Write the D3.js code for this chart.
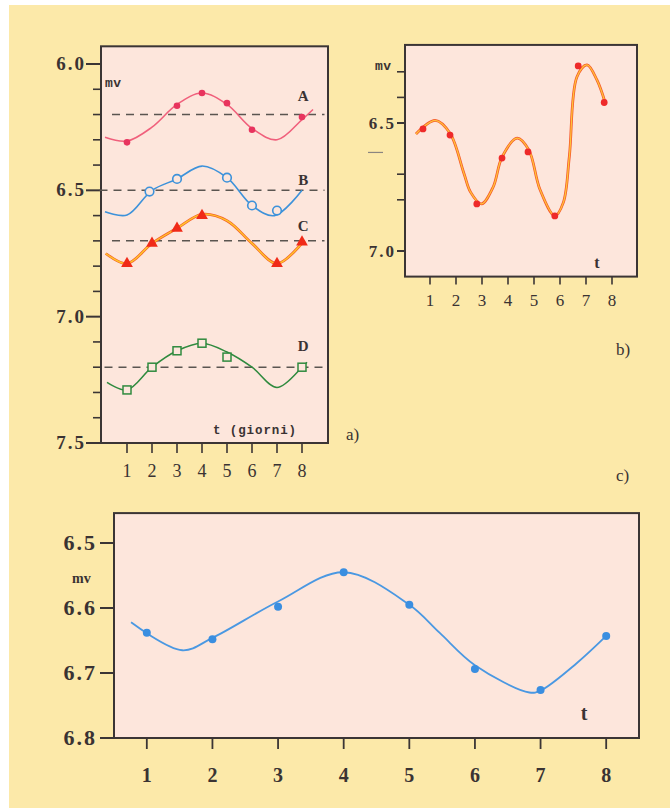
<!DOCTYPE html>
<html><head><meta charset="utf-8">
<script src="https://cdn.jsdelivr.net/npm/d3@7"></script>
<style>
html,body{margin:0;padding:0;background:#fff;}
svg{display:block;}
</style></head>
<body>
<svg id="c" width="670" height="808"></svg>
<script>
// ---------- DATA ----------
const tTicks = [1,2,3,4,5,6,7,8];
const yTicksA = ["6.0","6.5","7.0","7.5"];
const yMinorA = [6.1,6.2,6.3,6.4,6.6,6.7,6.8,6.9,7.1,7.2,7.3,7.4];
const yTicksB = ["6.5","7.0"];
const yMinorB = [6.3,6.4,6.7,6.8];
const yTicksC = ["6.5","6.6","6.7","6.8"];

// panel a series: marker points [t, mV]
const seriesNames = ["A","B","C","D"];
const baselines = [6.20, 6.50, 6.70, 7.20];
const pointsA = [[1,6.31],[3,6.165],[4,6.115],[5,6.155],[6,6.26],[8,6.21]];
const pointsB = [[1.9,6.505],[3,6.455],[5,6.45],[6,6.56],[7,6.58]];
const pointsC = [[1,6.79],[2,6.71],[3,6.65],[4,6.60],[7,6.79],[8,6.705]];
const pointsD = [[1,7.29],[2,7.20],[3,7.135],[4,7.105],[5,7.16],[8,7.20]];
// drawn curves
const curveA = [[0.12,6.29],[1,6.305],[2,6.25],[3,6.16],[4,6.115],[5,6.16],[6,6.255],[7,6.30],[8,6.22],[8.44,6.18]];
const curveB = [[0.12,6.585],[1,6.598],[2,6.50],[3,6.455],[4,6.404],[5,6.45],[6,6.56],[6.9,6.60],[8,6.50]];
const curveC = [[0.15,6.75],[1,6.79],[2,6.71],[3,6.65],[4,6.595],[5,6.62],[6,6.71],[7,6.79],[8,6.71],[8.1,6.70]];
const curveD = [[0.2,7.26],[1,7.29],[2,7.20],[3,7.135],[4,7.105],[5,7.14],[6,7.20],[7,7.28],[8,7.20],[8.2,7.18]];

// panel b
const pointsPB = [[0.73,6.523],[1.77,6.547],[2.8,6.816],[3.77,6.637],[4.77,6.613],[5.8,6.863],[6.7,6.277],[7.7,6.42]];
const curvePB = [[0.46,6.543],[1.2,6.49],[1.77,6.54],[2.3,6.695],[2.56,6.77],[2.98,6.816],[3.43,6.75],[3.77,6.633],[4.35,6.559],[4.8,6.605],[5.23,6.76],[5.8,6.863],[6.13,6.81],[6.36,6.63],[6.65,6.32],[7.04,6.273],[7.42,6.332],[7.73,6.418]];

// panel c
const pointsPC = [[1,6.638],[2,6.648],[3,6.598],[4,6.545],[5,6.595],[6,6.694],[7,6.726],[8,6.643]];
const curvePC = [[0.76,6.622],[1.54,6.665],[2,6.646],[3,6.59],[4,6.545],[5,6.595],[5.46,6.638],[6,6.688],[6.83,6.73],[7,6.727],[7.55,6.685],[8,6.643]];

// ---------- STYLE ----------
const BG = "#fce9a9", PANEL = "#fde6dc", FRAME = "#3b3535", INK = "#3a3333";
const serif = "'Liberation Serif','DejaVu Serif',serif";
const mono = "'Liberation Mono','DejaVu Sans Mono',monospace";

const svg = d3.select("#c");
svg.append("rect").attr("x",9).attr("y",5).attr("width",661).attr("height",803).attr("fill",BG);

const smooth = d3.curveCatmullRom.alpha(0.5);

function frame(g, x0, y0, x1, y1){
  g.append("rect").attr("x",x0).attr("y",y0).attr("width",x1-x0).attr("height",y1-y0)
   .attr("fill",PANEL).attr("stroke",FRAME).attr("stroke-width",2);
}
function text(g, x, y, s, size, opts={}){
  return g.append("text").attr("x",x).attr("y",y).text(s)
    .attr("font-family",opts.family||serif).attr("font-size",size)
    .attr("font-weight",opts.weight||"bold").attr("fill",opts.fill||INK)
    .attr("text-anchor",opts.anchor||"start")
    .attr("letter-spacing",opts.ls||0);
}

// ================= PANEL a =================
{
  const g = svg.append("g");
  const x = d3.scaleLinear().domain([0,9]).range([102,327]);
  const y = d3.scaleLinear().domain([6.0,7.5]).range([64,443]);
  frame(g, 101, y(5.93), 328, y(7.5));
  const yMaj = yTicksA.map(Number);
  g.selectAll(".ymaj").data(yMaj).join("line")
    .attr("x1",86).attr("x2",101).attr("y1",d=>y(d)).attr("y2",d=>y(d))
    .attr("stroke",FRAME).attr("stroke-width",2);
  g.selectAll(".ymin").data(yMinorA).join("line")
    .attr("x1",93).attr("x2",101).attr("y1",d=>y(d)).attr("y2",d=>y(d))
    .attr("stroke",FRAME).attr("stroke-width",1.6);
  yTicksA.forEach(s=>text(g, 86, y(+s)+6, s, 19, {anchor:"end", ls:2}));
  g.selectAll(".xt").data(tTicks).join("line")
    .attr("x1",d=>x(d)).attr("x2",d=>x(d)).attr("y1",443).attr("y2",453)
    .attr("stroke",FRAME).attr("stroke-width",1.6);
  tTicks.forEach(t=>text(g, x(t), 477, String(t), 18, {anchor:"middle", weight:"normal"}));
  const dashExt = [[0.4,8.9],[-0.1,8.9],[0.4,8.9],[0.1,9.0]];
  baselines.forEach((b,i)=>{
    g.append("line").attr("x1",x(dashExt[i][0])).attr("x2",x(dashExt[i][1]))
      .attr("y1",y(b)).attr("y2",y(b))
      .attr("stroke","#5a5550").attr("stroke-width",1.5).attr("stroke-dasharray","8,6");
  });
  const line = d3.line().x(d=>x(d[0])).y(d=>y(d[1])).curve(smooth);
  g.append("path").attr("d",line(curveA)).attr("fill","none").attr("stroke","#f0607c").attr("stroke-width",1.6);
  g.selectAll(".pa").data(pointsA).join("circle").attr("cx",d=>x(d[0])).attr("cy",d=>y(d[1])).attr("r",3.3).attr("fill","#e8345e");
  g.append("path").attr("d",line(curveB)).attr("fill","none").attr("stroke","#3d92da").attr("stroke-width",1.6);
  g.selectAll(".pb").data(pointsB).join("circle").attr("cx",d=>x(d[0])).attr("cy",d=>y(d[1])).attr("r",4.3)
    .attr("fill",PANEL).attr("stroke","#3d92da").attr("stroke-width",1.6);
  g.append("path").attr("d",line(curveC)).attr("fill","none").attr("stroke","#f5602a").attr("stroke-width",2.8);
  g.append("path").attr("d",line(curveC)).attr("fill","none").attr("stroke","#ffc62a").attr("stroke-width",1.4);
  const tri = d3.symbol().type(d3.symbolTriangle).size(60);
  g.selectAll(".pc").data(pointsC).join("path").attr("d",tri)
    .attr("transform",d=>`translate(${x(d[0])},${y(d[1])})`).attr("fill","#f02a18");
  g.append("path").attr("d",line(curveD)).attr("fill","none").attr("stroke","#2f8a3e").attr("stroke-width",1.5);
  g.selectAll(".pd").data(pointsD).join("rect").attr("x",d=>x(d[0])-4).attr("y",d=>y(d[1])-4)
    .attr("width",8).attr("height",8).attr("fill",PANEL).attr("stroke","#2f8a3e").attr("stroke-width",1.5);
  const labY = [6.145, 6.48, 6.66, 7.135];
  seriesNames.forEach((n,i)=>text(g, x(8.05), y(labY[i]), n, 15, {anchor:"middle"}));
  text(g, 105, 87, "mv", 13, {family:mono, ls:0.5});
  text(g, 213, 434, "t (giorni)", 12.5, {family:mono, ls:0.9});
  text(g, 346, 440, "a)", 17, {weight:"normal"});
}

// ================= PANEL b =================
{
  const g = svg.append("g");
  const x = d3.scaleLinear().domain([0,9]).range([404,638]);
  const y = d3.scaleLinear().domain([6.5,7.0]).range([123,251]);
  frame(g, 405, y(6.195), 637, y(7.10));
  g.selectAll(".ymaj").data(yTicksB.map(Number)).join("line")
    .attr("x1",397).attr("x2",405).attr("y1",d=>y(d)).attr("y2",d=>y(d))
    .attr("stroke",FRAME).attr("stroke-width",2);
  g.selectAll(".ymin").data(yMinorB).join("line")
    .attr("x1",397).attr("x2",405).attr("y1",d=>y(d)).attr("y2",d=>y(d))
    .attr("stroke",FRAME).attr("stroke-width",1.6);
  g.append("line").attr("x1",368).attr("x2",383).attr("y1",y(6.615)).attr("y2",y(6.615))
    .attr("stroke","#8a8580").attr("stroke-width",1.2);
  yTicksB.forEach(s=>text(g, 396, y(+s)+6, s, 17, {anchor:"end", ls:2}));
  g.selectAll(".xt").data(tTicks).join("line")
    .attr("x1",d=>x(d)).attr("x2",d=>x(d)).attr("y1",y(7.10)).attr("y2",y(7.10)+8)
    .attr("stroke",FRAME).attr("stroke-width",1.6);
  tTicks.forEach(t=>text(g, x(t), 306, String(t), 17, {anchor:"middle", weight:"normal"}));
  const line = d3.line().x(d=>x(d[0])).y(d=>y(d[1])).curve(smooth);
  g.append("path").attr("d",line(curvePB)).attr("fill","none").attr("stroke","#f5582a").attr("stroke-width",2.8);
  g.append("path").attr("d",line(curvePB)).attr("fill","none").attr("stroke","#ffc23a").attr("stroke-width",1.3);
  g.selectAll(".p").data(pointsPB).join("circle").attr("cx",d=>x(d[0])).attr("cy",d=>y(d[1])).attr("r",3.4).attr("fill","#ee2a2a");
  text(g, 375, 70, "mv", 13, {family:mono, ls:0.5});
  text(g, 597, 268, "t", 16, {anchor:"middle"});
  text(g, 616, 355, "b)", 17, {weight:"normal"});
}

text(svg, 616, 481, "c)", 17, {weight:"normal"});

// ================= PANEL c =================
{
  const g = svg.append("g");
  const x = d3.scaleLinear().domain([0.5,8.5]).range([114,639]);
  const y = d3.scaleLinear().domain([6.5,6.8]).range([543,738]);
  frame(g, 114, y(6.454), 639, y(6.8));
  g.selectAll(".ymaj").data(yTicksC.map(Number)).join("line")
    .attr("x1",100).attr("x2",114).attr("y1",d=>y(d)).attr("y2",d=>y(d))
    .attr("stroke",FRAME).attr("stroke-width",2);
  yTicksC.forEach(s=>text(g, 97, y(+s)+7, s, 22, {anchor:"end", ls:2}));
  g.selectAll(".xt").data(tTicks).join("line")
    .attr("x1",d=>x(d)).attr("x2",d=>x(d)).attr("y1",738).attr("y2",749)
    .attr("stroke",FRAME).attr("stroke-width",1.8);
  tTicks.forEach(t=>text(g, x(t), 782, String(t), 20, {anchor:"middle"}));
  const line = d3.line().x(d=>x(d[0])).y(d=>y(d[1])).curve(smooth);
  g.append("path").attr("d",line(curvePC)).attr("fill","none").attr("stroke","#4a98e2").attr("stroke-width",1.8);
  g.selectAll(".p").data(pointsPC).join("circle").attr("cx",d=>x(d[0])).attr("cy",d=>y(d[1])).attr("r",4).attr("fill","#3a8ee0");
  text(g, 72, 583, "mv", 14, {});
  text(g, 584, 720, "t", 20, {anchor:"middle"});
}
</script>
</body></html>
